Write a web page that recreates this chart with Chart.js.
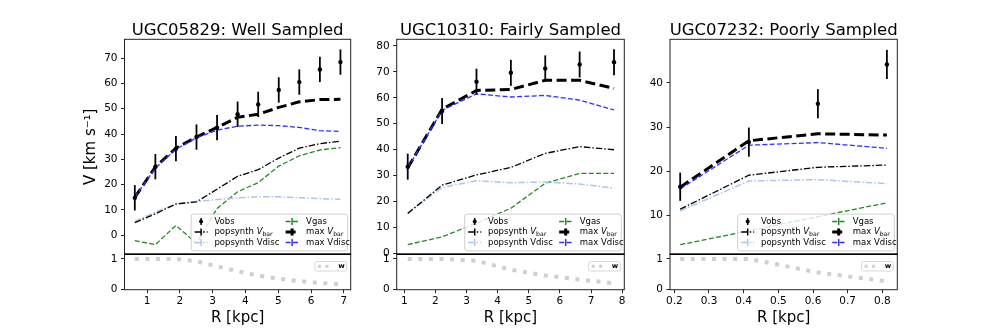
<!DOCTYPE html>
<html>
<head>
<meta charset="utf-8">
<script src="https://cdn.jsdelivr.net/npm/chart.js@4.4.1/dist/chart.umd.min.js"></script>
<style>
  html, body { margin: 0; padding: 0; background: #fff; }
  #wrap { position: relative; width: 997px; height: 332px; overflow: hidden; }
  #wrap canvas { position: absolute; left: 0; top: 0; }
</style>
</head>
<body>
<div id="wrap"></div>
<script>
// --- UGC05829 ---
const r1 = [0.627, 1.254, 1.881, 2.508, 3.135, 3.762, 4.389, 5.016, 5.643, 6.27, 6.897];
const vobs1 = [14.8, 27.1, 34.2, 38.8, 42.5, 47.8, 51.7, 57.4, 60.5, 65.5, 68.4];
const err1 = [5, 5, 5, 5, 5, 5, 5, 5, 5, 5, 5];
const maxVbar1 = [15.0, 27.0, 34.4, 38.8, 42.6, 46.6, 47.8, 50.5, 52.7, 53.6, 53.7];
const maxVdisc1 = [15.0, 26.6, 34.0, 38.5, 41.5, 43.1, 43.5, 43.3, 42.6, 41.3, 41.0];
const popVbar1 = [5.0, 8.5, 12.4, 13.2, 18.2, 23.3, 25.9, 30.5, 34.4, 36.2, 37.2];
const popVdisc1 = [5.5, 9.2, 12.2, 13.4, 14.1, 14.8, 15.2, 15.2, 14.8, 14.5, 14.2];
const vgas1 = [-2.1, -3.7, 3.9, -3.2, 10.6, 17.2, 20.8, 27.3, 31.4, 33.7, 34.6];
const w1 = [1, 1, 1, 0.92, 0.76, 0.6, 0.46, 0.36, 0.28, 0.22, 0.18];
const yTicks1 = [0, 10, 20, 30, 40, 50, 60, 70];
const xTicks1 = [1, 2, 3, 4, 5, 6, 7];

// --- UGC10310 ---
const r2 = [1.11, 2.215, 3.32, 4.425, 5.53, 6.635, 7.74];
const vobs2 = [33.5, 54.9, 66.2, 69.6, 71.3, 72.8, 73.7];
const err2 = [5, 5, 5, 5, 5, 5, 5];
const maxVbar2 = [33.0, 55.6, 62.8, 63.2, 66.7, 66.7, 63.6];
const maxVdisc2 = [33.0, 55.2, 61.5, 60.3, 60.9, 59.1, 55.3];
const popVbar2 = [15.5, 26.4, 30.3, 33.2, 38.6, 41.2, 40.0];
const popVdisc2 = [15.5, 25.5, 28.1, 27.3, 27.6, 26.8, 25.2];
const vgas2 = [3.5, 6.5, 11.7, 17.5, 27.1, 30.9, 30.9];
const w2 = [1, 1, 0.94, 0.65, 0.46, 0.33, 0.21];
const yTicks2 = [0, 10, 20, 30, 40, 50, 60, 70, 80];
const xTicks2 = [1, 2, 3, 4, 5, 6, 7, 8];

// --- UGC07232 ---
const r3 = [0.217, 0.415, 0.614, 0.813];
const vobs3 = [16.5, 26.6, 35.3, 44.2];
const err3 = [3.2, 3.3, 3.3, 3.3];
const maxVbar3 = [16.4, 26.9, 28.5, 28.2];
const maxVdisc3 = [16.0, 25.9, 26.5, 25.2];
const popVbar3 = [11.4, 19.1, 20.9, 21.4];
const popVdisc3 = [11.0, 17.8, 18.1, 17.2];
const vgas3 = [3.35, 6.5, 9.7, 12.85];
const w3 = [1, 1, 0.56, 0.27];
const yTicks3 = [10, 20, 30, 40];
const xTicks3 = [0.2, 0.3, 0.4, 0.5, 0.6, 0.7, 0.8];

const wTicks = [0, 1];

const W = 997, H = 332;
const TOP = 39.3, SEP = 254.3, BOT = 289.7;
const Y_W = 42.5, X_H = 37;
const FONT = '"DejaVu Sans", sans-serif';

const STY = {
  popVbar:  { color: '#000000', width: 1.3, dash: [6.5, 2, 1.5, 2] },
  popVdisc: { color: '#aec7e8', width: 1.5, dash: [6.5, 2, 1.5, 2] },
  vgas:     { color: '#1f8a1f', width: 1.3, dash: [5, 2.3] },
  maxVbar:  { color: '#000000', width: 3,   dash: [10, 4.5] },
  maxVdisc: { color: '#2f2fff', width: 1.3, dash: [5, 2.3] },
  w:        { color: '#cfcfcf', width: 4,   dash: [4, 6.6] }
};

const panels = [
  { title: 'UGC05829: Well Sampled', left: 124.5, right: 350.7, xlim: [0.313, 7.21], ylim: [-7.5, 77.4],
    r: r1, vobs: vobs1, err: err1, maxVbar: maxVbar1, maxVdisc: maxVdisc1, popVbar: popVbar1, popVdisc: popVdisc1,
    vgas: vgas1, w: w1, yTicks: yTicks1, xTicks: xTicks1, ylabel: 'V [km s\u207B\u00B9]' },
  { title: 'UGC10310: Fairly Sampled', left: 396.7, right: 624.3, xlim: [0.756, 8.07], ylim: [-0.23, 82.5],
    r: r2, vobs: vobs2, err: err2, maxVbar: maxVbar2, maxVdisc: maxVdisc2, popVbar: popVbar2, popVdisc: popVdisc2,
    vgas: vgas2, w: w2, yTicks: yTicks2, xTicks: xTicks2, ylabel: null },
  { title: 'UGC07232: Poorly Sampled', left: 670, right: 897.3, xlim: [0.1876, 0.843], ylim: [1.18, 49.9],
    r: r3, vobs: vobs3, err: err3, maxVbar: maxVbar3, maxVdisc: maxVdisc3, popVbar: popVbar3, popVdisc: popVdisc3,
    vgas: vgas3, w: w3, yTicks: yTicks3, xTicks: xTicks3, ylabel: null }
];

const legendItems = [
  { col: 0, row: 0, kind: 'pt', label: [{ t: 'Vobs' }] },
  { col: 0, row: 1, kind: 'line', sty: STY.popVbar, label: [{ t: 'popsynth ' }, { t: 'V', it: true }, { t: 'bar', sub: true }] },
  { col: 0, row: 2, kind: 'line', sty: STY.popVdisc, label: [{ t: 'popsynth Vdisc' }] },
  { col: 1, row: 0, kind: 'line', sty: STY.vgas, label: [{ t: 'Vgas' }] },
  { col: 1, row: 1, kind: 'line', sty: STY.maxVbar, label: [{ t: 'max ' }, { t: 'V', it: true }, { t: 'bar', sub: true }] },
  { col: 1, row: 2, kind: 'line', sty: STY.maxVdisc, label: [{ t: 'max Vdisc' }] }
];

const wrap = document.getElementById('wrap');
function addCanvas() {
  const c = document.createElement('canvas');
  c.width = W; c.height = H;
  c.style.width = W + 'px'; c.style.height = H + 'px';
  wrap.appendChild(c);
  return c;
}
const pts = (r, v) => r.map((x, i) => ({ x: x, y: v[i] }));

function lineDs(label, data, sty, order) {
  return { label, data, borderColor: sty.color, borderWidth: sty.width, borderDash: sty.dash,
           pointRadius: 0, fill: false, tension: 0, order };
}

function drawParts(ctx, parts, x, y, size) {
  for (const p of parts) {
    const fs = p.sub ? size * 0.72 : size;
    ctx.font = (p.it ? 'italic ' : '') + fs + 'px ' + FONT;
    ctx.fillText(p.t, x, y + (p.sub ? size * 0.3 : 0));
    x += ctx.measureText(p.t).width;
  }
}

function roundBox(ctx, x, y, w, h, rad) {
  ctx.beginPath();
  ctx.moveTo(x + rad, y);
  ctx.arcTo(x + w, y, x + w, y + h, rad);
  ctx.arcTo(x + w, y + h, x, y + h, rad);
  ctx.arcTo(x, y + h, x, y, rad);
  ctx.arcTo(x, y, x + w, y, rad);
  ctx.closePath();
}

function yScale(p, min, max, ticks, width, withTitle) {
  return {
    type: 'linear', min, max,
    afterBuildTicks: s => { s.ticks = ticks.map(v => ({ value: v })); },
    afterFit: s => { s.width = width; s.paddingTop = 0; s.paddingBottom = 0; },
    ticks: { color: '#000', padding: 3.5, font: { family: FONT, size: 10.5 }, callback: v => String(v) },
    grid: { drawOnChartArea: false, drawTicks: true, tickLength: 3.5, color: '#222', lineWidth: 1 },
    border: { display: false },
    title: withTitle
      ? { display: true, text: withTitle, color: '#000', padding: 0, font: { family: FONT, size: 15 } }
      : { display: false }
  };
}

function mainChart(p) {
  const cv = addCanvas();
  const datasets = [
    { label: 'Vobs', data: pts(p.r, p.vobs), showLine: false, pointRadius: 2.2, pointBackgroundColor: '#000',
      pointBorderWidth: 0, borderColor: '#000', order: 0 },
    lineDs('max Vdisc', pts(p.r, p.maxVdisc), STY.maxVdisc, 1),
    lineDs('max Vbar', pts(p.r, p.maxVbar), STY.maxVbar, 2),
    lineDs('popsynth Vbar', pts(p.r, p.popVbar), STY.popVbar, 3),
    lineDs('popsynth Vdisc', pts(p.r, p.popVdisc), STY.popVdisc, 4),
    lineDs('Vgas', pts(p.r, p.vgas), STY.vgas, 5)
  ];
  const deco = {
    id: 'deco',
    afterDatasetsDraw(chart) {
      const ctx = chart.ctx, xs = chart.scales.x, ys = chart.scales.y;
      ctx.save();
      ctx.strokeStyle = '#000';
      ctx.lineWidth = 1.8;
      p.r.forEach((rv, i) => {
        const x = xs.getPixelForValue(rv);
        ctx.beginPath();
        ctx.moveTo(x, ys.getPixelForValue(p.vobs[i] + p.err[i]));
        ctx.lineTo(x, ys.getPixelForValue(p.vobs[i] - p.err[i]));
        ctx.stroke();
      });
      ctx.restore();
    },
    afterDraw(chart) {
      const ctx = chart.ctx, a = chart.chartArea;
      ctx.save();
      // legend
      const bw = 156.6, bh = 36.7;
      const bx = a.right - 3 - bw, by = a.bottom - 3.5 - bh;
      roundBox(ctx, bx, by, bw, bh, 2.5);
      ctx.fillStyle = 'rgba(255,255,255,0.8)';
      ctx.fill();
      ctx.strokeStyle = '#d0d0d0';
      ctx.lineWidth = 1;
      ctx.stroke();
      ctx.textBaseline = 'middle';
      ctx.textAlign = 'left';
      legendItems.forEach(it => {
        const hx = bx + 3.5 + it.col * 91;
        const cy = by + 7.4 + it.row * 10.5;
        const cx = hx + 6.5;
        if (it.kind === 'pt') {
          ctx.strokeStyle = '#000'; ctx.lineWidth = 1.5; ctx.setLineDash([]);
          ctx.beginPath(); ctx.moveTo(cx, cy - 3.5); ctx.lineTo(cx, cy + 3.5); ctx.stroke();
          ctx.fillStyle = '#000';
          ctx.beginPath(); ctx.arc(cx, cy, 2, 0, Math.PI * 2); ctx.fill();
        } else {
          const s = it.sty;
          ctx.strokeStyle = s.color; ctx.lineWidth = s.width;
          ctx.setLineDash(s.dash);
          ctx.beginPath(); ctx.moveTo(hx, cy); ctx.lineTo(hx + 13, cy); ctx.stroke();
          ctx.setLineDash([]);
          ctx.lineWidth = s.width > 2 ? 3 : 1.5;
          ctx.beginPath(); ctx.moveTo(cx, cy - 3.5); ctx.lineTo(cx, cy + 3.5); ctx.stroke();
        }
        ctx.fillStyle = '#000';
        drawParts(ctx, it.label, bx + 23.3 + it.col * 91.7, cy, 8.5);
      });
      // frame
      ctx.setLineDash([]);
      ctx.strokeStyle = '#222';
      ctx.lineWidth = 1;
      ctx.strokeRect(a.left, a.top, a.right - a.left, a.bottom - a.top);
      // title
      ctx.fillStyle = '#000';
      ctx.font = '16.5px ' + FONT;
      ctx.textAlign = 'center';
      ctx.textBaseline = 'alphabetic';
      ctx.fillText(p.title, (a.left + a.right) / 2, 34.5);
      ctx.restore();
    }
  };
  new Chart(cv, {
    type: 'line',
    data: { datasets },
    options: {
      responsive: false, animation: false, events: [],
      layout: { autoPadding: false, padding: { left: p.left - Y_W, top: TOP, right: W - p.right, bottom: H - SEP } },
      plugins: { legend: { display: false }, tooltip: { enabled: false } },
      scales: {
        x: { type: 'linear', display: false, min: p.xlim[0], max: p.xlim[1] },
        y: yScale(p, p.ylim[0], p.ylim[1], p.yTicks, Y_W, p.ylabel)
      }
    },
    plugins: [deco]
  });
}

function weightChart(p) {
  const cv = addCanvas();
  const deco = {
    id: 'wdeco',
    afterDraw(chart) {
      const ctx = chart.ctx, a = chart.chartArea;
      ctx.save();
      // small legend
      const bw = 31.7, bh = 9.5;
      const bx = a.right - 4 - bw, by = a.top + 7.2;
      roundBox(ctx, bx, by, bw, bh, 2);
      ctx.fillStyle = 'rgba(255,255,255,0.8)';
      ctx.fill();
      ctx.strokeStyle = '#d8d8d8';
      ctx.lineWidth = 1;
      ctx.stroke();
      const cy = by + bh / 2;
      ctx.strokeStyle = STY.w.color; ctx.lineWidth = 3; ctx.setLineDash([3, 4.5]);
      ctx.beginPath(); ctx.moveTo(bx + 3, cy); ctx.lineTo(bx + 16, cy); ctx.stroke();
      ctx.setLineDash([]);
      ctx.fillStyle = '#000';
      ctx.font = 'bold 7px ' + FONT;
      ctx.textAlign = 'center';
      ctx.textBaseline = 'middle';
      ctx.fillText('w', bx + 26.5, cy);
      // frame
      ctx.strokeStyle = '#222';
      ctx.lineWidth = 1;
      ctx.strokeRect(a.left, a.top, a.right - a.left, a.bottom - a.top);
      ctx.strokeStyle = '#000';
      ctx.lineWidth = 1.6;
      ctx.beginPath(); ctx.moveTo(a.left, a.top); ctx.lineTo(a.right, a.top); ctx.stroke();
      ctx.restore();
    }
  };
  new Chart(cv, {
    type: 'line',
    data: { datasets: [lineDs('w', pts(p.r, p.w), STY.w, 0)] },
    options: {
      responsive: false, animation: false, events: [],
      layout: { autoPadding: false, padding: { left: p.left - Y_W, top: SEP, right: W - p.right, bottom: H - BOT - X_H } },
      plugins: { legend: { display: false }, tooltip: { enabled: false } },
      scales: {
        x: {
          type: 'linear', min: p.xlim[0], max: p.xlim[1],
          afterBuildTicks: s => { s.ticks = p.xTicks.map(v => ({ value: v })); },
          afterFit: s => { s.height = X_H; s.paddingLeft = 0; s.paddingRight = 0; },
          ticks: { color: '#000', padding: 2, autoSkip: false, maxRotation: 0, minRotation: 0,
                   font: { family: FONT, size: 10.5 }, callback: v => String(v) },
          grid: { drawOnChartArea: false, drawTicks: true, tickLength: 3.5, color: '#222', lineWidth: 1 },
          border: { display: false },
          title: { display: true, text: 'R [kpc]', color: '#000', padding: 0, font: { family: FONT, size: 15 } }
        },
        y: yScale(p, 0, 1.15, wTicks, Y_W, null)
      }
    },
    plugins: [deco]
  });
}

panels.forEach(p => { mainChart(p); weightChart(p); });
</script>
</body>
</html>
